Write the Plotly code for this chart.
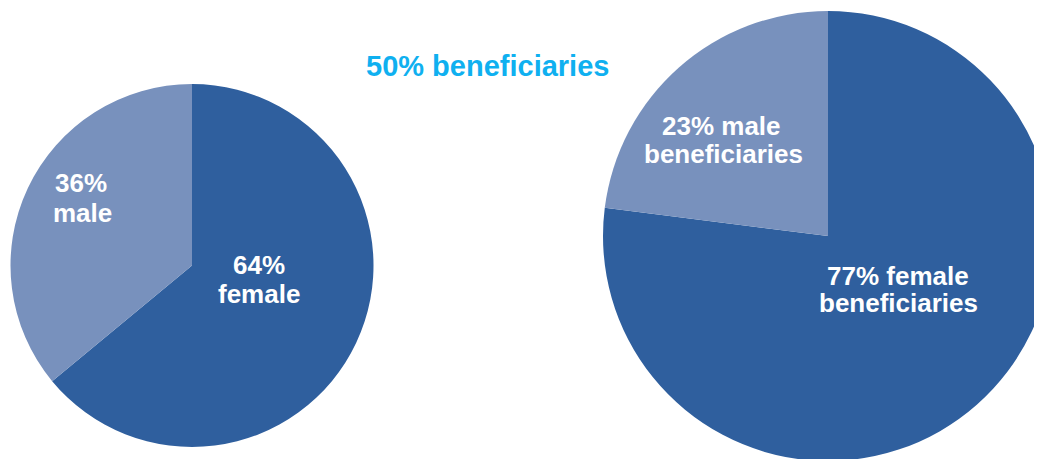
import plotly.graph_objects as go

# ---- data ----
categories = ["female", "male"]
left_values = [64, 36]
right_values = [77, 23]
title_text = "50% beneficiaries"
right_suffix = "beneficiaries"

# ---- style ----
# The page body has an 8px margin, so the figure is placed 8px right/down.
OFF = 8
W, H = 1050, 467
slice_colors = ["#2F5F9E", "#7891BD"]
font_family = "Liberation Sans, Arial, sans-serif"


def px(xr):
    return (xr - OFF) / W


def py(yr):
    return (H - (yr - OFF)) / H


fig = go.Figure()

fig.add_trace(go.Pie(
    labels=categories, values=left_values, sort=False, direction="clockwise",
    rotation=0, marker=dict(colors=slice_colors, line=dict(width=0)),
    textinfo="none", hoverinfo="label+percent", showlegend=False,
    domain=dict(x=[px(10.5), px(373.5)], y=[py(447), py(84)]),
))

fig.add_trace(go.Pie(
    labels=categories, values=right_values, sort=False, direction="clockwise",
    rotation=0, marker=dict(colors=slice_colors, line=dict(width=0)),
    textinfo="none", hoverinfo="label+percent", showlegend=False,
    domain=dict(x=[px(603), px(1053)], y=[py(461), py(11)]),
))

label_font = dict(family=font_family, size=26, color="white", weight="bold")


def add_line(text, x, y, font):
    fig.add_annotation(x=px(x), y=py(y), xref="paper", yref="paper",
                       text=text, showarrow=False, font=font,
                       xanchor="center", yanchor="middle", align="center")


# left pie labels: (line1 centre, line2 centre)
left_pos = {"female": ((259, 265), (258.5, 294)), "male": ((80.5, 182.5), (82.5, 213))}
for cat, v in zip(categories, left_values):
    (x1, y1), (x2, y2) = left_pos[cat]
    add_line(f"{v}%", x1, y1, label_font)
    add_line(cat, x2, y2, label_font)

# right pie labels
right_pos = {"female": ((898, 276), (898, 303)), "male": ((721, 125.5), (723, 153.5))}
for cat, v in zip(categories, right_values):
    (x1, y1), (x2, y2) = right_pos[cat]
    add_line(f"{v}% {cat}", x1, y1, label_font)
    add_line(right_suffix, x2, y2, label_font)

add_line(title_text, 487, 65.5,
         dict(family=font_family, size=29, color="#0FB0F0", weight="bold"))

fig.update_layout(
    width=W, height=H, margin=dict(l=0, r=0, t=0, b=0),
    paper_bgcolor="white", plot_bgcolor="white",
)

fig.write_html("out.html")
